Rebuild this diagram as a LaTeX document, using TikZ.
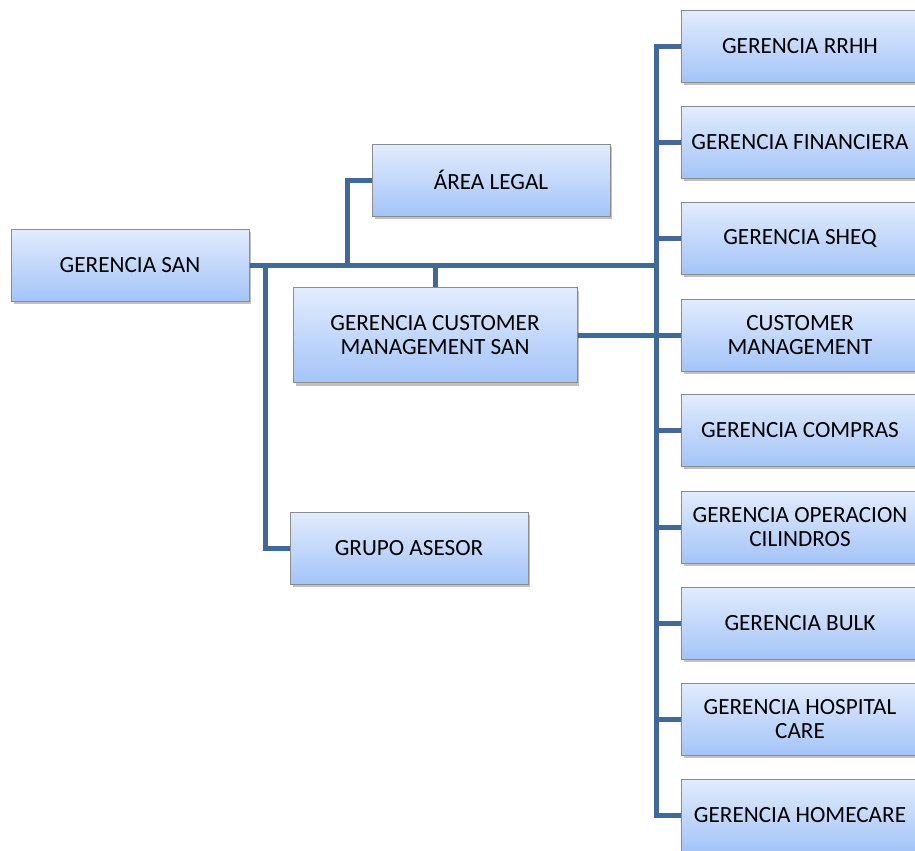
\documentclass[tikz,border=0pt]{standalone}
\usepackage{fontspec}
\setmainfont{Carlito}
\usetikzlibrary{shadows,backgrounds}

\definecolor{boxtop}{RGB}{226,236,253}
\definecolor{boxbot}{RGB}{164,196,248}
\definecolor{boxline}{RGB}{140,140,140}
\definecolor{orgline}{RGB}{66,104,153}

\tikzset{
    cargo/.style={draw=boxline, line width=0.5pt, top color=boxtop, bottom color=boxbot,
        minimum width=4.76cm, minimum height=1.44cm, inner sep=0pt, align=center,
        font=\fontsize{13.2}{14}\selectfont,
        drop shadow={shadow xshift=0.05cm, shadow yshift=-0.06cm, opacity=0.35, fill=black!70}},
    enlace/.style={draw=orgline, line width=0.1cm}
}

\begin{document}
\begin{tikzpicture}[x=0.02cm, y=-0.02cm]
        \useasboundingbox (0,0) rectangle (915,850);
        \clip (0,0) rectangle (915,850);

        % cajas
        \node[cargo] (san) at (130,265) {GERENCIA SAN};
        \node[cargo] (legal) at (491,180) {ÁREA LEGAL};
        \node[cargo, minimum width=5.68cm, minimum height=1.9cm] (cmsan) at (435,335) {GERENCIA CUSTOMER\\MANAGEMENT SAN};
        \node[cargo] (asesor) at (409,548) {GRUPO ASESOR};

        \node[cargo] (rrhh) at (800,46) {GERENCIA RRHH};
        \node[cargo] (finanzas) at (800,142) {GERENCIA FINANCIERA};
        \node[cargo] (sheq) at (800,238) {GERENCIA SHEQ};
        \node[cargo] (cm) at (800,335) {CUSTOMER\\MANAGEMENT};
        \node[cargo] (compras) at (800,430) {GERENCIA COMPRAS};
        \node[cargo] (cilindros) at (800,527) {GERENCIA OPERACION\\CILINDROS};
        \node[cargo] (bulk) at (800,623) {GERENCIA BULK};
        \node[cargo] (hospital) at (800,719) {GERENCIA HOSPITAL\\CARE};
        \node[cargo] (homecare) at (800,815) {GERENCIA HOMECARE};

        \coordinate (tronco) at ([xshift=-0.48cm]rrhh.west);

        % lineas
        \begin{pgfonlayer}{background}
        \draw[enlace] (san.east) -- (san.east -| tronco);
        \draw[enlace] (legal.west) -| ([xshift=-0.48cm]legal.west |- san.east);
        \draw[enlace] (cmsan.north) -- (cmsan.north |- san.east);
        \draw[enlace] (asesor.west) -| ([xshift=-0.48cm]asesor.west |- san.east);
        \draw[enlace] (rrhh.west) -| (homecare.west -| tronco) -- (homecare.west);
        \foreach \n in {finanzas,sheq,cm,compras,cilindros,bulk,hospital}
            \draw[enlace] (\n.west) -- (\n.west -| tronco);
        \draw[enlace] (cmsan.east) -- (cm.west);
        \end{pgfonlayer}
\end{tikzpicture}
\end{document}
